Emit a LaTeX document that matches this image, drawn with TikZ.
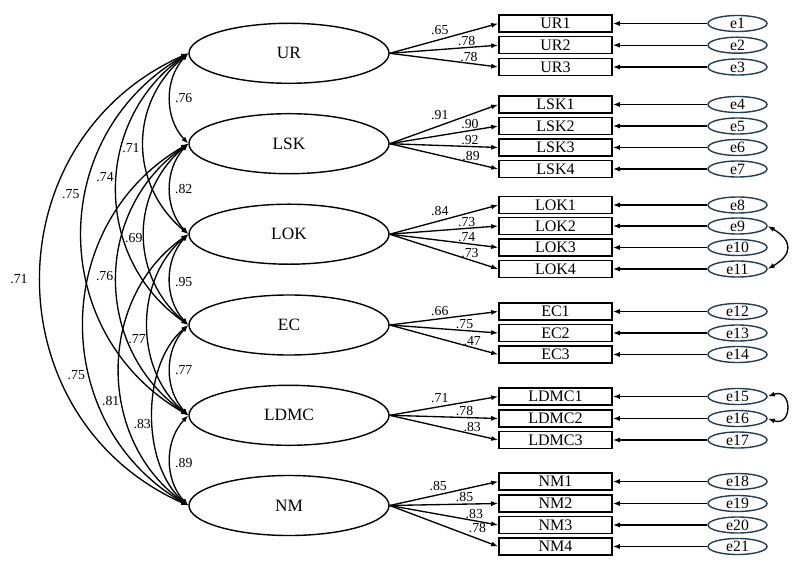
\documentclass[tikz,border=0pt]{standalone}
\usepackage{fontspec}
\setmainfont{Liberation Serif}
\usetikzlibrary{shapes.geometric,arrows.meta}
\definecolor{errline}{RGB}{35,62,82}
\tikzset{
    latent/.style={draw, ellipse, line width=1pt, minimum width=5cm, minimum height=1.5cm, inner sep=0pt, font=\fontsize{12.3}{14}\selectfont},
    indicator/.style={draw, rectangle, line width=1.1pt, minimum width=2.825cm, minimum height=0.425cm, inner sep=0pt, font=\fontsize{11.4}{13}\selectfont},
    residual/.style={draw=errline, ellipse, line width=1pt, minimum width=1.475cm, minimum height=0.4cm, inner sep=0pt, font=\fontsize{11.2}{13}\selectfont},
    coef/.style={inner sep=1pt, font=\fontsize{9.8}{11}\selectfont},
    oneway/.style={line width=0.95pt, -{Latex[length=5pt, width=3.6pt]}},
    twoway/.style={line width=0.95pt, {Latex[length=5pt, width=3.6pt]}-{Latex[length=5pt, width=3.6pt]}}
}
\begin{document}
\begin{tikzpicture}[x=0.025cm, y=-0.025cm]
        \useasboundingbox (0,0) rectangle (800,570);
        \foreach \n/\y in {UR/53.3, LSK/143.7, LOK/234.2, EC/325, LDMC/415.3, NM/505.5}
            \node[latent] (\n) at (289,\y) {\n};
        \foreach \f/\n/\y/\w/\p/\a [count=\i] in {
            UR/UR1/23.5/.65/.56/south east, UR/UR2/45.2/.78/.71/south, UR/UR3/67/.78/.73/south,
            LSK/LSK1/104.5/.91/.56/south east, LSK/LSK2/126/.90/.74/south, LSK/LSK3/147.5/.92/.74/south, LSK/LSK4/169/.89/.75/south,
            LOK/LOK1/205/.84/.56/south east, LOK/LOK2/226/.73/.71/south, LOK/LOK3/247.5/.74/.71/south, LOK/LOK4/269/.73/.74/south,
            EC/EC1/311.5/.66/.56/south east, EC/EC2/333/.75/.69/south, EC/EC3/354.5/.47/.76/south,
            LDMC/LDMC1/396.5/.71/.56/south east, LDMC/LDMC2/418.5/.78/.69/south, LDMC/LDMC3/440/.83/.76/south,
            NM/NM1/481.5/.85/.545/south east, NM/NM2/503.5/.85/.69/south, NM/NM3/525/.83/.78/south, NM/NM4/546.5/.78/.71/south west}
        {
            \node[indicator] (\n) at (555.5,\y) {\n};
            \node[residual] (e\i) at (737.5,\y) {e\i};
            \draw[oneway] (e\i) -- (\n);
            \draw[oneway] (\f.east) -- node[coef, pos=\p, anchor=\a] {\w} (\n.west);
        }
        \foreach \a/\b/\t/\l/\p/\s/\d/\w in {
            UR/LSK/43/1/.5/west/2pt/.76, LSK/LOK/43/1/.5/west/2pt/.82, LOK/EC/43/1/.53/west/2pt/.95,
            EC/LDMC/43/1/.5/west/2pt/.77, LDMC/NM/43/1/.53/west/2pt/.89,
            UR/LOK/50/1.1/.52/east/-1.5pt/.71, LSK/EC/50/1.08/.52/east/0pt/.69,
            LOK/LDMC/50/1/.57/east/-0.5pt/.77, EC/NM/50/.88/.54/east/0pt/.83,
            UR/EC/55/1.1/.46/east/-1pt/.74, LSK/LDMC/55/1.1/.49/east/-1pt/.76, LOK/NM/55/1.06/.6/east/-0.5pt/.81,
            UR/LDMC/60/1.16/.405/east/-3pt/.75, LSK/NM/60/1.14/.62/east/-2pt/.75,
            UR/NM/66/1.22/.5/east/-8pt/.71}
            \draw[twoway] (\a.west) to[bend right=\t, looseness=\l] node[coef, pos=\p, anchor=\s, xshift=\d] {\w} (\b.west);
        \draw[twoway] (e9.east) to[out=-30, in=30, looseness=1.73] (e11.east);
        \draw[twoway] (e15.east) to[out=20, in=-20, looseness=3.1] (e16.east);
\end{tikzpicture}
\end{document}
